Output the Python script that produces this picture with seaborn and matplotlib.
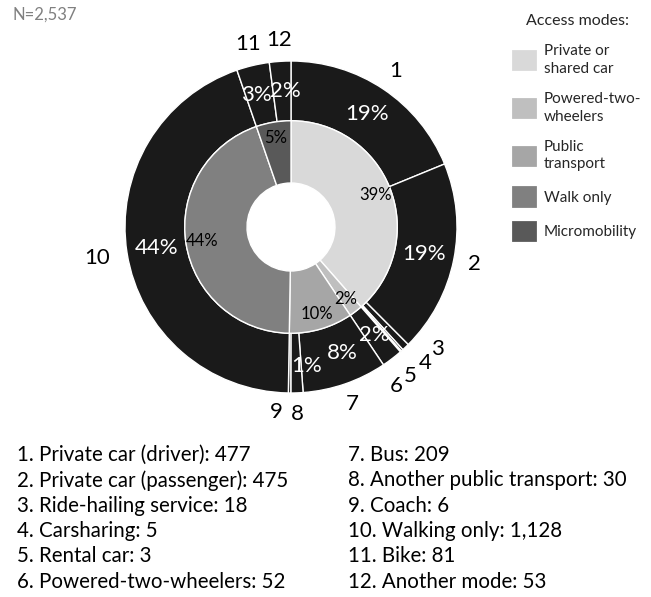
import matplotlib
matplotlib.use("Agg")
import numpy as np
import matplotlib.pyplot as plt
import seaborn as sns
from matplotlib.patches import Patch

# outer ring: the 12 access modes (counts from the list under the chart)
mode_ids = [str(i) for i in range(1, 13)]
mode_names = ["Private car (driver)", "Private car (passenger)", "Ride-hailing service",
              "Carsharing", "Rental car", "Powered-two-wheelers", "Bus",
              "Another public transport", "Coach", "Walking only", "Bike", "Another mode"]
mode_counts = [477, 475, 18, 5, 3, 52, 209, 30, 6, 1128, 81, 53]
mode_count_text = ["477", "475", "18", "5", "3", "52", "209", "30", "6", "1,128", "81", "53"]

# inner ring: grouped access modes
access_modes = ["Private or\nshared car", "Powered-two-\nwheelers", "Public\ntransport",
                "Walk only", "Micromobility"]
access_counts = [978, 52, 245, 1128, 134]

sns.set_theme(style="white")
plt.rcParams["font.family"] = ["Lato", "DejaVu Sans"]

access_colors = sns.color_palette(["#d9d9d9", "#bfbfbf", "#a6a6a6", "#808080", "#595959"])
ring_color = "#1a1a1a"

W, H = 651, 597
fig = plt.figure(figsize=(W / 100, H / 100), dpi=100)

# pie centre and radius in pixels
cx, cy, R = 291, 227, 166
half = 1.25 * R
ax = fig.add_axes([(cx - half) / W, (H - cy - half) / H, 2 * half / W, 2 * half / H])

wedges, labels, pcts = ax.pie(
    mode_counts, radius=1, startangle=90, counterclock=False,
    colors=[ring_color] * len(mode_counts), labels=mode_ids, labeldistance=1.13,
    autopct=lambda p: f"{p:.0f}%" if p >= 1 else "", pctdistance=0.82,
    wedgeprops=dict(width=0.36, edgecolor="white", linewidth=1.0),
    textprops=dict(fontsize=16),
)
for t in pcts:
    t.set_color("white")
for t in labels:
    t.set_ha("center")
    t.set_va("center")
    t.set_color("black")


def place(text, wedge, d_angle, r):
    ang = np.deg2rad((wedge.theta1 + wedge.theta2) / 2 + d_angle)
    text.set_position((r * np.cos(ang), r * np.sin(ang)))


# spread the crowded small labels a little (angle shift in degrees, radius)
label_moves = {2: (6.5, 1.15), 3: (2.5, 1.15), 4: (-2.7, 1.15), 5: (-4.0, 1.15),
               8: (-4.0, 1.12), 9: (0.0, 1.18)}
for i, (d, r) in label_moves.items():
    place(labels[i], wedges[i], d, r)
pct_moves = {6: (3.0, 0.82), 7: (4.5, 0.84), 10: (1.5, 0.82), 11: (-1.5, 0.82)}
for i, (d, r) in pct_moves.items():
    place(pcts[i], wedges[i], d, r)

in_wedges, _, in_pcts = ax.pie(
    access_counts, radius=0.64, startangle=90, counterclock=False,
    colors=access_colors, autopct=lambda p: f"{p:.0f}%", pctdistance=0.85,
    wedgeprops=dict(width=0.375, edgecolor="white", linewidth=1.0),
    textprops=dict(fontsize=12, color="black"),
)
ax.set_xlim(-1.25, 1.25)
ax.set_ylim(-1.25, 1.25)

fig.text(13 / W, 1 - 15 / H, "N=2,537", color="#808080", fontsize=12, va="center")

handles = [Patch(facecolor=c, edgecolor=c, linewidth=2, joinstyle="round") for c in access_colors]
leg = fig.legend(handles, access_modes, loc="upper left", bbox_to_anchor=(499 / W, 1.0),
                 title="Access modes:", frameon=False, fontsize=11, title_fontsize=11.5,
                 handlelength=1.44, handleheight=1.44, handletextpad=0.6, labelspacing=1.05)
for t in leg.get_texts():
    t.set_linespacing(1.35)

# numbered list under the chart
for i, (name, n) in enumerate(zip(mode_names, mode_count_text)):
    col, row = divmod(i, 6)
    x = (17 if col == 0 else 348) / W
    y = 1 - (455 + 25.3 * row) / H
    fig.text(x, y, f"{i + 1}. {name}: {n}", fontsize=14.8, va="center", color="black")

fig.savefig("out.png", dpi=100)
